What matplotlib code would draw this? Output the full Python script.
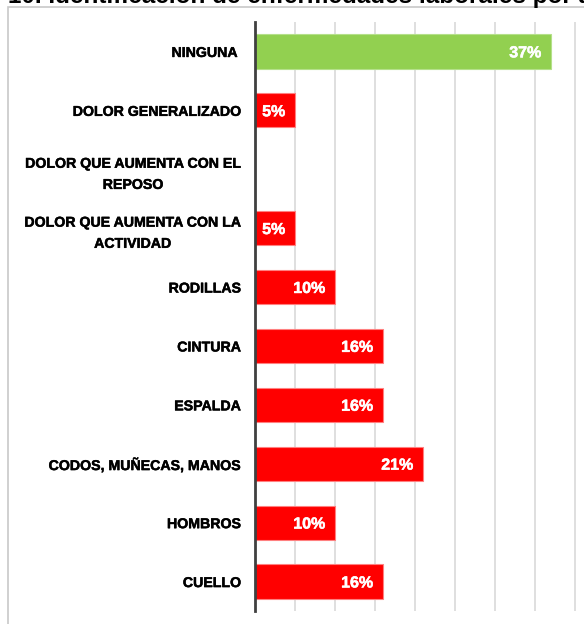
import matplotlib.pyplot as plt
from matplotlib.patches import Rectangle
import matplotlib.patheffects as pe

categorias = ["NINGUNA ", "DOLOR GENERALIZADO", "DOLOR QUE AUMENTA CON EL\nREPOSO",
              "DOLOR QUE AUMENTA CON LA\nACTIVIDAD", "RODILLAS", "CINTURA", "ESPALDA",
              "CODOS, MUÑECAS, MANOS", "HOMBROS", "CUELLO"]
valores = [37, 5, 0, 5, 10, 16, 16, 21, 10, 16]
colores = ["#92D050"] + ["#FF0000"] * 9
titulo = "10. Identificación de enfermedades laborales por área"

plt.rcParams['font.family'] = ['Liberation Sans', 'DejaVu Sans']

W, H = 584, 624
fig = plt.figure(figsize=(W / 100, H / 100), dpi=100)

# marco del grafico (recortado a la derecha)
fig.patches.append(Rectangle((8 / W, -0.1), 1.0, 1 - 7 / H + 0.1, transform=fig.transFigure,
                             fill=False, edgecolor="#c8c8c8", linewidth=1.2))
# titulo casi fuera de la imagen, como en el original
fig.text(8 / W, 1 - 2.5 / H, titulo, fontsize=17.5, fontweight='bold', va='baseline', ha='left')

grueso = [pe.withStroke(linewidth=0.35, foreground='black')]

ax = fig.add_axes([255 / W, 1 - 611 / H, 328 / W, 589 / H])
y = list(range(len(categorias)))
ax.barh(y, valores, height=0.58, color=colores, edgecolor=["#b5e08a"] + ["#ff8080"] * 9,
        linewidth=0.8, zorder=3)
ax.set_ylim(len(categorias) - 0.5, -0.5)
ax.set_xlim(0, 41)
ax.set_xticks(range(0, 41, 5))
ax.set_xticklabels([])
ax.tick_params(axis='x', length=0)
ax.grid(axis='x', color="#d9d9d9", linewidth=1.2, zorder=0)
ax.set_yticks(y)
ax.set_yticklabels(categorias, fontsize=10.2, fontweight='bold', multialignment='center',
                   linespacing=1.65, path_effects=grueso)
ax.tick_params(axis='y', length=0, pad=10)
for s in ['top', 'right', 'bottom']:
    ax.spines[s].set_visible(False)
ax.spines['left'].set_color("#404040")
ax.spines['left'].set_linewidth(2)
ax.spines['left'].set_zorder(4)

for i, v in enumerate(valores):
    if v > 0:
        ax.annotate(f"{v}%", (v, i), xytext=(-7, -1), textcoords='offset points',
                    ha='right', va='center', color='white', fontsize=11.5, fontweight='bold', zorder=5,
                    path_effects=[pe.withStroke(linewidth=0.4, foreground='white')])

fig.savefig("out.png", dpi=100)
